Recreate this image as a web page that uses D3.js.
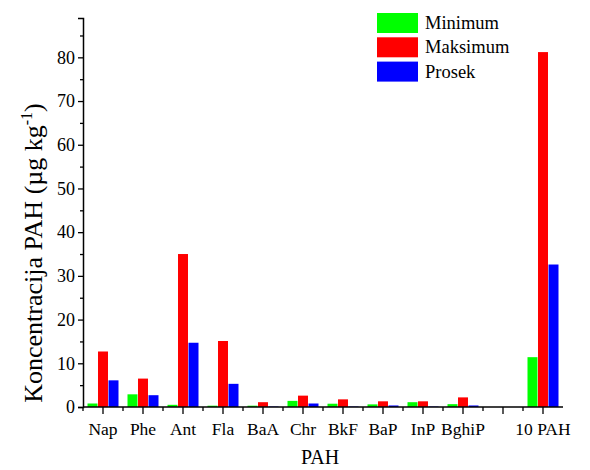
<!DOCTYPE html>
<html>
<head>
<meta charset="utf-8">
<script src="https://cdn.jsdelivr.net/npm/d3@7"></script>
<style>
  body { margin: 0; background: #fff; }
  svg { display: block; }
</style>
</head>
<body>
<div id="chart"></div>
<script>
// categories (the blank slot is the gap before the total)
const categories = ["Nap", "Phe", "Ant", "Fla", "BaA", "Chr", "BkF", "BaP", "InP", "BghiP", "", "10 PAH"]
const seriesNames = ["Minimum", "Maksimum", "Prosek"]
const minimum = [0.8, 2.9, 0.5, 0.3, 0.3, 1.4, 0.75, 0.6, 1.1, 0.65, null, 11.4]
const maksimum = [12.7, 6.5, 35.0, 15.1, 1.1, 2.6, 1.75, 1.3, 1.3, 2.2, null, 81.2]
const prosek = [6.1, 2.7, 14.7, 5.3, 0.1, 0.8, 0.1, 0.35, 0.1, 0.35, null, 32.6]
const yTicks = [0, 10, 20, 30, 40, 50, 60, 70, 80]
const colors = ["#00ff00", "#ff0000", "#0000ff"]

const serif = "'Liberation Serif', 'Times New Roman', serif"
const width = 590
const height = 470
const margin = { left: 83, right: 27, top: 18, bottom: 63 }

const svg = d3.select("#chart").append("svg")
  .attr("width", width)
  .attr("height", height)

const x = d3.scaleBand()
  .domain(categories.map((c, i) => i))
  .range([margin.left, width - margin.right])
  .padding(0)

const y = d3.scaleLinear()
  .domain([0, 89])
  .range([height - margin.bottom, margin.top])

const sub = d3.scaleBand()
  .domain([0, 1, 2])
  .range([0, 31])
  .paddingInner(0.05)

const series = [minimum, maksimum, prosek]

// bars
series.forEach((vals, s) => {
  svg.append("g")
    .selectAll("rect")
    .data(vals.map((v, i) => ({ v, i })).filter((d) => d.v != null))
    .join("rect")
    .attr("x", (d) => x(d.i) + x.bandwidth() / 2 - 15.5 + sub(s))
    .attr("width", sub.bandwidth())
    .attr("y", (d) => y(d.v))
    .attr("height", (d) => y(0) - y(d.v))
    .attr("fill", colors[s])
})

// y axis
const yAxis = svg.append("g").attr("transform", `translate(${margin.left},0)`)
yAxis.call(d3.axisLeft(y).tickValues(yTicks).tickSize(5).tickPadding(3).tickFormat(d3.format("d")))
yAxis.append("g").call(d3.axisLeft(y).tickValues(d3.range(5, 89, 10)).tickSize(3).tickFormat(""))
yAxis.selectAll(".domain").attr("stroke-width", 1.5)
yAxis.selectAll("path.domain").filter((d, i, n) => n[i].parentNode !== yAxis.node()).remove()
yAxis.selectAll("line").attr("stroke-width", 1.3)
yAxis.selectAll("text")
  .attr("font-size", 18)
  .attr("fill", "#000")
  .style("font-family", serif)

// x axis
const x0 = y(0)
const xAxis = svg.append("g").attr("transform", `translate(0,${x0})`)
xAxis.append("line")
  .attr("x1", margin.left).attr("x2", width - margin.right)
  .attr("stroke", "#000").attr("stroke-width", 1.5)
xAxis.selectAll("line.major")
  .data(categories.map((c, i) => i))
  .join("line")
  .attr("class", "major")
  .attr("x1", (i) => x(i) + x.bandwidth() / 2)
  .attr("x2", (i) => x(i) + x.bandwidth() / 2)
  .attr("y1", 0).attr("y2", 7)
  .attr("stroke", "#000").attr("stroke-width", 1.3)
xAxis.selectAll("line.minor")
  .data(categories.map((c, i) => i))
  .join("line")
  .attr("class", "minor")
  .attr("x1", (i) => x(i))
  .attr("x2", (i) => x(i))
  .attr("y1", 0).attr("y2", 4)
  .attr("stroke", "#000").attr("stroke-width", 1.3)
xAxis.selectAll("text")
  .data(categories.map((c, i) => ({ c, i })))
  .join("text")
  .attr("x", (d) => x(d.i) + x.bandwidth() / 2)
  .attr("y", 28)
  .attr("text-anchor", "middle")
  .attr("font-size", 17.5)
  .style("font-family", serif)
  .text((d) => d.c)

// axis titles
svg.append("text")
  .attr("x", 320)
  .attr("y", 464)
  .attr("text-anchor", "middle")
  .attr("font-size", 20)
  .style("font-family", serif)
  .text("PAH")

const yTitle = svg.append("text")
  .attr("transform", "translate(42,253) rotate(-90)")
  .attr("text-anchor", "middle")
  .attr("font-size", 26)
  .style("font-family", serif)
yTitle.append("tspan").text("Koncentracija PAH (µg kg")
yTitle.append("tspan").attr("font-size", 16).attr("dy", -10).text("-1")
yTitle.append("tspan").attr("dy", 10).text(")")

// legend
const legend = svg.append("g").attr("transform", "translate(377,13)")
seriesNames.forEach((name, i) => {
  legend.append("rect")
    .attr("x", 0).attr("y", i * 24.3)
    .attr("width", 41).attr("height", 20)
    .attr("fill", colors[i])
  legend.append("text")
    .attr("x", 48).attr("y", i * 24.3 + 16)
    .attr("font-size", 18.5)
    .style("font-family", serif)
    .text(name)
})
</script>
</body>
</html>
